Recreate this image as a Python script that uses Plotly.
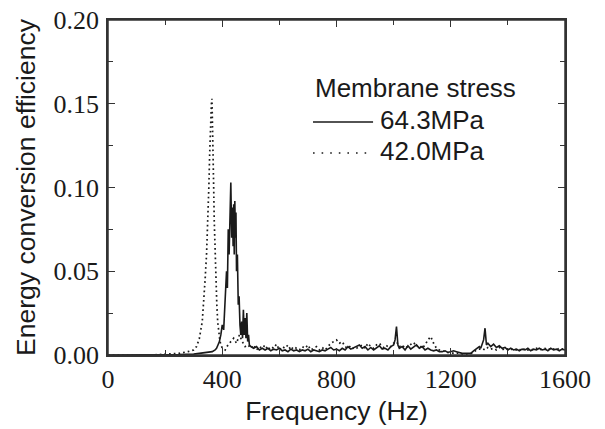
import plotly.graph_objects as go

# Membrane stress 64.3 MPa (solid)
freq_643 = [0, 50, 100, 150, 200, 250, 300, 330, 350, 365, 375, 380, 385, 390, 395, 400,
            405, 410, 415, 418, 421, 424, 427, 430, 433, 436, 438, 440, 442, 444, 446, 448,
            450, 453, 456, 459, 462, 465, 468, 471, 474, 477, 480, 483, 486, 489, 492, 495,
            500, 510, 520, 530, 540, 550, 560, 570, 580, 590, 600, 610, 620, 630, 640, 650,
            660, 670, 680, 690, 700, 710, 720, 730, 740, 750, 760, 770, 780, 790, 800, 810,
            820, 830, 840, 850, 860, 870, 880, 890, 900, 910, 920, 930, 940, 950, 960, 970,
            980, 990, 1000, 1005, 1010, 1015, 1020, 1030, 1040, 1050, 1060, 1070, 1080, 1090,
            1100, 1110, 1120, 1130, 1140, 1150, 1160, 1170, 1180, 1190, 1200, 1210, 1220, 1230,
            1240, 1250, 1260, 1270, 1280, 1290, 1300, 1305, 1310, 1315, 1320, 1325, 1330, 1340,
            1350, 1360, 1370, 1380, 1390, 1400, 1410, 1420, 1430, 1440, 1450, 1460, 1470, 1480,
            1490, 1500, 1510, 1520, 1530, 1540, 1550, 1560, 1570, 1580, 1590, 1600]
eff_643 = [0.0, 0.0, 0.0, 0.0, 0.0001, 0.0002, 0.0005, 0.001, 0.0015, 0.002, 0.003, 0.004, 0.006, 0.008, 0.012, 0.018,
           0.015, 0.03, 0.05, 0.04, 0.075, 0.06, 0.09, 0.103, 0.07, 0.088, 0.065, 0.09, 0.06, 0.092, 0.07, 0.085,
           0.05, 0.06, 0.03, 0.035, 0.018, 0.012, 0.02, 0.01, 0.027, 0.012, 0.022, 0.01, 0.025, 0.008, 0.012, 0.006,
           0.005, 0.004, 0.005, 0.003, 0.004, 0.003, 0.004, 0.0025, 0.0035, 0.003, 0.004, 0.0025, 0.003, 0.002, 0.0035, 0.0025,
           0.003, 0.002, 0.003, 0.0025, 0.0035, 0.002, 0.003, 0.0025, 0.002, 0.003, 0.0025, 0.0035, 0.0045, 0.003, 0.0035, 0.0025,
           0.004, 0.003, 0.005, 0.0035, 0.0045, 0.005, 0.006, 0.004, 0.005, 0.003, 0.0045, 0.003, 0.004, 0.0055, 0.0035, 0.004,
           0.003, 0.005, 0.006, 0.009, 0.017, 0.006, 0.004, 0.005, 0.003, 0.0055, 0.0035, 0.0045, 0.006, 0.004,
           0.005, 0.003, 0.004, 0.003, 0.0025, 0.003, 0.002, 0.002, 0.0025, 0.0015, 0.002, 0.0025, 0.002, 0.0015,
           0.001, 0.001, 0.0008, 0.001, 0.0025, 0.004, 0.005, 0.004, 0.0065, 0.009, 0.016, 0.006, 0.007, 0.005,
           0.0065, 0.0045, 0.0055, 0.004, 0.0045, 0.003, 0.004, 0.003, 0.0035, 0.0025, 0.0035, 0.003, 0.004, 0.0025,
           0.0035, 0.003, 0.004, 0.003, 0.0035, 0.0025, 0.004, 0.003, 0.0035, 0.0025, 0.0035, 0.003]

# Membrane stress 42.0 MPa (dotted)
freq_420 = [0, 50, 100, 150, 200, 250, 280, 300, 310, 320, 330, 335, 340, 345, 350, 353,
            356, 359, 362, 364, 366, 368, 370, 372, 375, 378, 381, 384, 388, 392, 396, 400,
            410, 420, 430, 440, 450, 460, 470, 480, 490,
            500, 510, 520, 530, 540, 550, 560, 570, 580, 590, 600, 610, 620, 630, 640, 650,
            660, 670, 680, 690, 700, 710, 720, 730, 740, 750, 760, 770, 780, 790, 800, 810,
            820, 830, 840, 850, 860, 870, 880, 890, 900, 910, 920, 930, 940, 950, 960, 970,
            980, 990, 1000, 1010, 1020, 1030, 1040, 1050, 1060, 1070, 1080, 1090, 1100, 1110,
            1120, 1130, 1140, 1150, 1160, 1170, 1180, 1190, 1200, 1210, 1220, 1230, 1240, 1250,
            1260, 1270, 1280, 1290, 1300, 1310, 1320, 1330, 1340, 1350, 1360, 1370, 1380, 1390,
            1400, 1410, 1420, 1430, 1440, 1450, 1460, 1470, 1480, 1490, 1500, 1510, 1520, 1530,
            1540, 1550, 1560, 1570, 1580, 1590, 1600]
eff_420 = [0.0, 0.0, 0.0, 0.0, 0.0005, 0.001, 0.002, 0.003, 0.005, 0.01, 0.02, 0.03, 0.045, 0.06, 0.08, 0.1,
           0.12, 0.14, 0.15, 0.153, 0.14, 0.12, 0.1, 0.08, 0.06, 0.04, 0.03, 0.02, 0.012, 0.008, 0.006, 0.004,
           0.003, 0.006, 0.008, 0.01, 0.007, 0.012, 0.008, 0.005, 0.006,
           0.004, 0.006, 0.003, 0.005, 0.004, 0.006, 0.003, 0.005, 0.004, 0.0065, 0.003, 0.005, 0.004, 0.006, 0.003, 0.005,
           0.004, 0.003, 0.005, 0.004, 0.006, 0.003, 0.004, 0.005, 0.003, 0.0045, 0.003, 0.005, 0.007, 0.008, 0.009, 0.007,
           0.008, 0.005, 0.004, 0.0055, 0.0035, 0.004, 0.005, 0.006, 0.004, 0.007, 0.005, 0.004, 0.006, 0.007, 0.005, 0.004,
           0.006, 0.005, 0.007, 0.008, 0.005, 0.006, 0.004, 0.005, 0.006, 0.0075, 0.005, 0.006, 0.004, 0.006,
           0.009, 0.011, 0.007, 0.004, 0.003, 0.0025, 0.002, 0.0015, 0.0015, 0.001, 0.0012, 0.0008, 0.0006, 0.0005,
           0.0005, 0.0008, 0.0015, 0.003, 0.0035, 0.004, 0.003, 0.0045, 0.0035, 0.004, 0.003, 0.0045, 0.003, 0.004,
           0.0035, 0.003, 0.004, 0.003, 0.0035, 0.0025, 0.004, 0.003, 0.0035, 0.003, 0.004, 0.003, 0.0035, 0.004,
           0.003, 0.004, 0.0035, 0.003, 0.004, 0.0035, 0.004]

legend_title = 'Membrane stress'
legend_names = ['64.3MPa', '42.0MPa']

ink = '#1a1a1a'
sans = 'Liberation Sans, Arial, sans-serif'
serif = 'Liberation Serif, Times New Roman, serif'

fig = go.Figure()
fig.add_trace(go.Scatter(x=freq_420, y=eff_420, mode='lines', name=legend_names[1],
                         line=dict(color=ink, width=1.7, dash='1.7px,3px')))
fig.add_trace(go.Scatter(x=freq_643, y=eff_643, mode='lines', name=legend_names[0],
                         line=dict(color=ink, width=1.6)))

# closed frame round the plot area
fig.add_shape(type='rect', xref='paper', yref='paper', x0=0, x1=1, y0=0, y1=1,
              line=dict(color='#333333', width=1.5), layer='above')

# hand-built legend to get the long sample lines of the original
fig.add_annotation(xref='paper', yref='paper', x=0.4486, y=0.797, xanchor='left', yanchor='middle',
                   text=legend_title, showarrow=False, font=dict(family=sans, size=26, color=ink))
fig.add_shape(type='line', xref='paper', yref='paper', x0=0.4486, x1=0.58, y0=0.6955, y1=0.6955,
              line=dict(color=ink, width=1.6))
fig.add_annotation(xref='paper', yref='paper', x=0.59, y=0.7015, xanchor='left', yanchor='middle',
                   text=legend_names[0], showarrow=False, font=dict(family=sans, size=26, color=ink))
fig.add_shape(type='line', xref='paper', yref='paper', x0=0.4486, x1=0.575, y0=0.603, y1=0.603,
              line=dict(color=ink, width=1.6, dash='1.6px,7px'))
fig.add_annotation(xref='paper', yref='paper', x=0.59, y=0.609, xanchor='left', yanchor='middle',
                   text=legend_names[1], showarrow=False, font=dict(family=sans, size=26, color=ink))

axis_style = dict(showline=True, linecolor='#333333', linewidth=1.5, mirror='ticks',
                  ticks='inside', ticklen=7, tickwidth=1.2, tickcolor='#333333',
                  showgrid=False, zeroline=False, automargin=False,
                  ticklabeloverflow='allow',
                  tickfont=dict(family=serif, size=26, color=ink))

fig.update_xaxes(axis_style, range=[0, 1600], dtick=400, tick0=0,
                 minor=dict(dtick=200, ticks='inside', ticklen=5, tickcolor='#333333'),
                 title=dict(text='Frequency (Hz)', font=dict(family=sans, size=26.5, color=ink), standoff=8))
fig.update_yaxes(axis_style, range=[0, 0.2], dtick=0.05, tick0=0, tickformat='.2f',
                 ticklabelstandoff=2,
                 minor=dict(dtick=0.025, ticks='inside', ticklen=5, tickcolor='#333333'),
                 title=dict(text='Energy conversion efficiency', font=dict(family=sans, size=26.5, color=ink), standoff=10))

fig.update_layout(width=605, height=429, margin=dict(l=108, r=40, t=20, b=74),
                  paper_bgcolor='white', plot_bgcolor='white', showlegend=False)

# drop the browser's default body margin so the figure sits at the window corner
fig.write_html('out.html', config={'displayModeBar': False},
               post_script="document.body.style.margin='0px';")
